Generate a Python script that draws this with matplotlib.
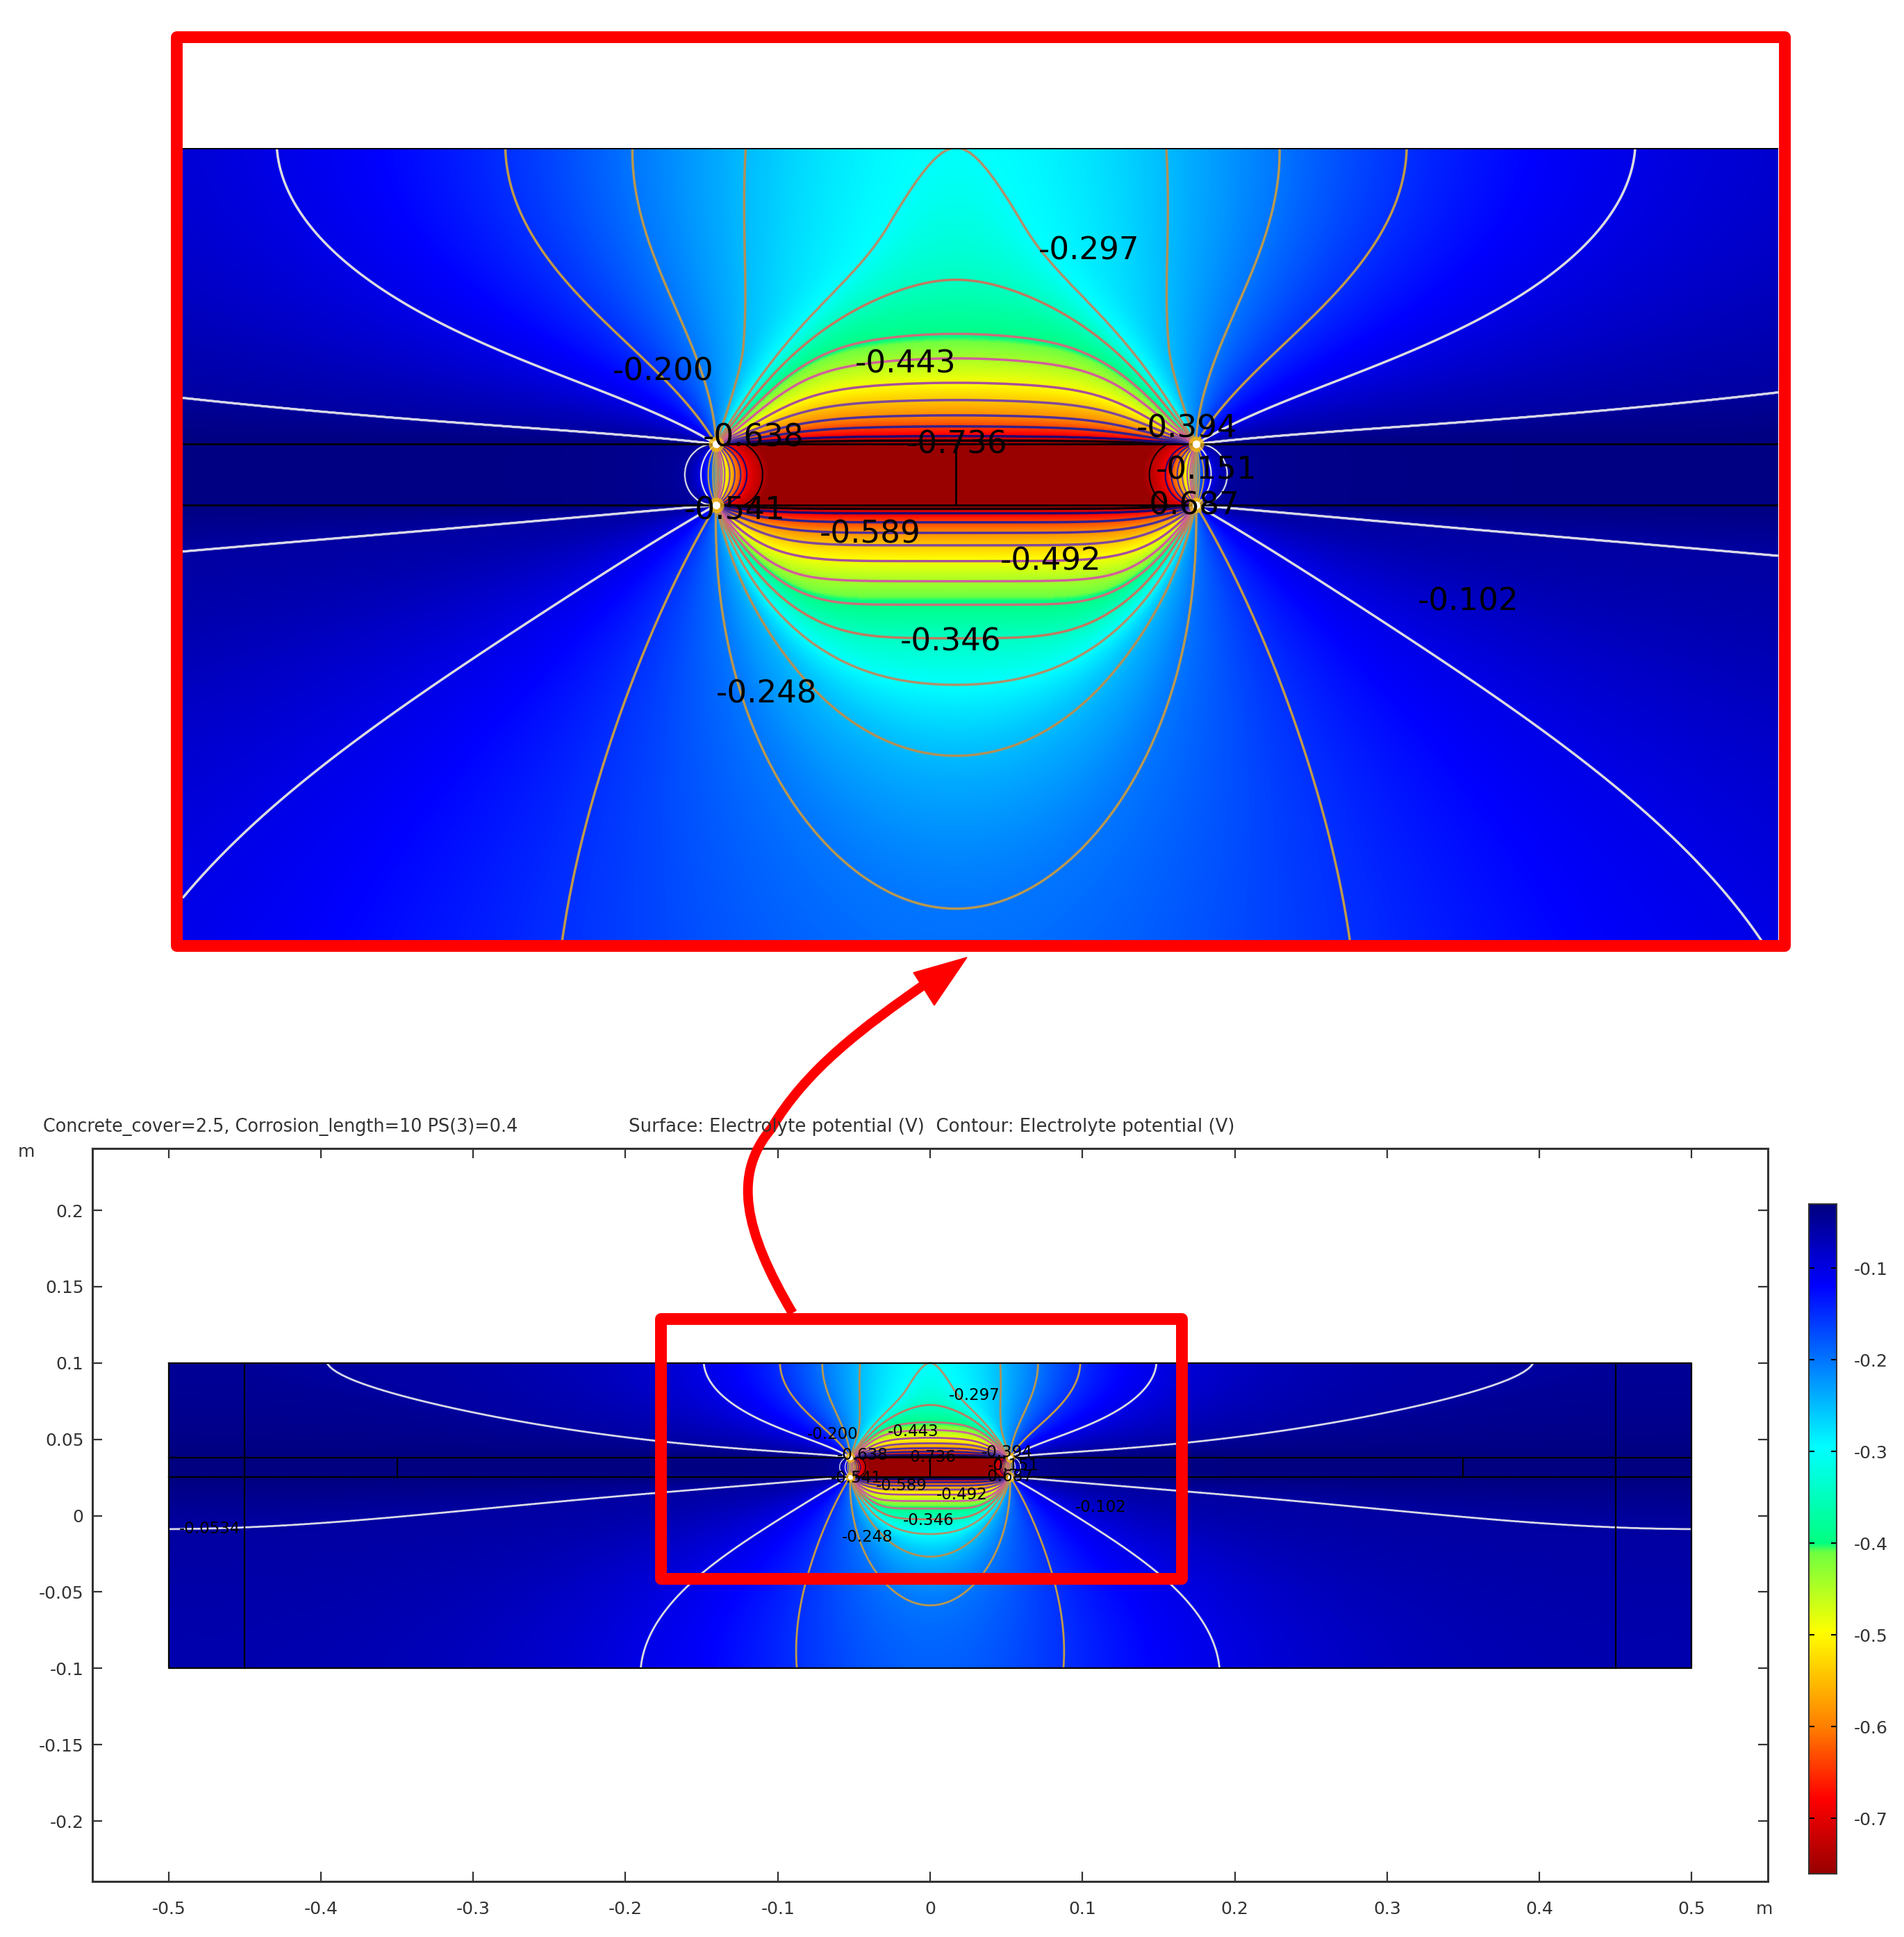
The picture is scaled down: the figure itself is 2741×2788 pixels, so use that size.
"""Electrolyte potential around a corroding rebar, with an enlarged view."""
import numpy as np
import matplotlib
matplotlib.use('Agg')
import matplotlib.pyplot as plt
from matplotlib.colors import LinearSegmentedColormap, Normalize
from matplotlib.path import Path
from matplotlib.patches import PathPatch, Polygon, Rectangle

W, H = 2741, 2788

# colour table of the legend
cmap_values = [-0.7606, -0.68, -0.60, -0.497, -0.41, -0.40, -0.295, -0.118, -0.03]
cmap_colors = ['#990000', '#ff0000', '#ff8000', '#ffff00', '#70ff40', '#00ff80',
               '#00ffff', '#0000ff', '#000080']

# contour levels, from the labels, and the line colour of each
levels = [-0.736, -0.687, -0.638, -0.589, -0.541, -0.492, -0.443, -0.394,
          -0.346, -0.297, -0.248, -0.200, -0.151, -0.102, -0.0534]
level_colors = ['#100008', '#200870', '#30208a', '#50309a', '#804a9a', '#a8509a',
                '#d0609a', '#c8707a', '#c07a60', '#b0906a', '#b09058', '#b89850',
                '#c09a48', '#dcdce0', '#d8d8e8']

# where each level was read on the picture, above the bar: (x, y) in metres
top_x = [0, 0, 0, 0, 0, 0, 0, 0, 0, 0, 0.046, 0.0708, 0.0986, 0.1486, 0.396, 0.5]
top_y = [0.03895, 0.03985, 0.0419, 0.0442, 0.0474, 0.0510, 0.0561, 0.0612,
         0.0725, 0.1, 0.1, 0.1, 0.1, 0.1, 0.1, 0.1]
top_v = [-0.736, -0.687, -0.638, -0.589, -0.541, -0.492, -0.443, -0.394,
         -0.346, -0.297, -0.248, -0.200, -0.151, -0.102, -0.0534, -0.045]

# same below the bar
bot_x = [0, 0, 0, 0, 0, 0, 0, 0, 0, 0, 0, 0, 0.0875, 0.19, 0.5, 0.5]
bot_y = [0.0247, 0.0238, 0.0219, 0.0197, 0.0171, 0.0138, 0.0096, 0.0047,
         -0.0023, -0.0120, -0.0268, -0.0587, -0.1, -0.1, -0.0087, -0.1]
bot_v = [-0.736, -0.687, -0.638, -0.589, -0.541, -0.492, -0.443, -0.394,
         -0.346, -0.297, -0.248, -0.200, -0.151, -0.102, -0.0534, -0.062]

# bulge of each arc inside the bar band at its end, metres from the end plane
arc_offset = [0.0102, 0.0067, 0.0054, 0.0041, 0.003, 0.0019, 0.0013, 0.0009,
              0.0005, 0.0002, -0.0002, -0.0007, -0.0017, -0.0033, -0.0068]

# geometry
half_bar = 0.0525
band_top = 0.0382
band_bot = 0.0255
dom_x = 0.5
dom_y = 0.1
mirror_top = 0.85
mirror_bot = 0.7

# contour labels
label_text = ['-0.297', '-0.200', '-0.443', '-0.638', '-0.736', '-0.394', '-0.151',
              '-0.541', '-0.687', '-0.589', '-0.492', '-0.102', '-0.346', '-0.248',
              '-0.0534']
label_x = [0.0291, -0.0641, -0.0111, -0.0443, 0.0002, 0.0505, 0.0548, -0.0484,
           0.0510, -0.0188, 0.0207, 0.1121, -0.0011, -0.0414, -0.473]
label_y = [0.0786, 0.0533, 0.0549, 0.0396, 0.0381, 0.0415, 0.0327, 0.0244,
           0.0253, 0.0194, 0.0138, 0.0054, -0.0031, -0.0140, -0.0087]

x_ticks = [-0.5, -0.4, -0.3, -0.2, -0.1, 0, 0.1, 0.2, 0.3, 0.4, 0.5]
y_ticks = [-0.2, -0.15, -0.1, -0.05, 0, 0.05, 0.1, 0.15, 0.2]
bar_ticks = [-0.1, -0.2, -0.3, -0.4, -0.5, -0.6, -0.7]

GREY = '#333333'
cmap = LinearSegmentedColormap.from_list(
    'potential',
    [((v - cmap_values[0]) / (cmap_values[-1] - cmap_values[0]), c)
     for v, c in zip(cmap_values, cmap_colors)], N=512)
norm = Normalize(cmap_values[0], cmap_values[-1])


def px_axes(fig, left, top, right, bottom, **kw):
    """Axes placed with pixel edges of the final picture."""
    return fig.add_axes([left / W, 1 - bottom / H, (right - left) / W,
                         (bottom - top) / H], **kw)


def _one(x, h):
    z = x + 1j * h
    return np.abs(np.angle((z - half_bar) / (z + half_bar)))


def _seen(x, h):
    """Angle under which the bar is seen from a point at height h above it."""
    return _one(x, h) + _one(x - 2 * dom_x, h) + _one(x + 2 * dom_x, h)


def _angle(x, h, depth, weight):
    """Same angle, bent by the mirror image in the closed edge at height depth."""
    s = h / depth
    # lines close to the bar hug it and leave its ends steeply
    ramp = np.clip((np.degrees(_one(x, h)) - 95) / 40, 0, 1)
    near = ramp * ramp * (3 - 2 * ramp)
    t = np.minimum(np.abs(x) / half_bar, 1.0)
    x_flat = x * (1 + (t ** 2 - 1) * near)
    mirror = _seen(x, 2 * depth - h) - _seen(x, 2 * depth) * (1 - s) ** 2
    return _seen(x_flat, h) + weight * mirror


def top_angle(x, y):
    return _angle(x, y - band_top, dom_y - band_top, mirror_top)


def bot_angle(x, y):
    return _angle(x, band_bot - y, band_bot + dom_y, mirror_bot)


def lookup(angle, pts_x, pts_y, pts_v, angle_func):
    """Potential from the levels read on the picture, keyed on the angle."""
    key = angle_func(np.asarray(pts_x, float), np.asarray(pts_y, float))
    order = np.argsort(key)
    key, val = key[order], np.asarray(pts_v)[order]
    key = np.concatenate([[0.0], key, [np.pi + 1e-6]])
    val = np.concatenate([[cmap_values[-1]], val, [cmap_values[0]]])
    return np.interp(angle, key, val)


def band_field(x, y):
    h = (band_top - band_bot) / 2
    mid = (band_top + band_bot) / 2
    d = half_bar - np.abs(x)
    w = d + 1j * (y - mid)
    phi = np.abs(np.angle((w - 1j * h) / (w + 1j * h)))
    alpha = np.where(d < 0, phi, 2 * np.pi - phi)
    off = np.asarray(arc_offset)
    key = 2 * np.arctan2(h, np.abs(off))
    key = np.where(off < 0, key, 2 * np.pi - key)
    order = np.argsort(key)
    key = key[order]
    k = np.concatenate([[0.0], key, [key[-1] + 0.12, 2 * np.pi]])
    v = np.concatenate([[cmap_values[-1]], np.asarray(levels)[order],
                        [cmap_values[0], cmap_values[0]]])
    return np.interp(alpha, k, v)


def draw_field(ax, x_lim, y_low, nx, ny, lw, band_lw):
    """Surface and contours, one pass for each of the three regions."""
    x = np.linspace(x_lim[0], x_lim[1], nx)
    regions = [(band_top, dom_y, ny[0]), (band_bot, band_top, ny[1]),
               (y_low, band_bot, ny[2])]
    for i, (y_a, y_b, n) in enumerate(regions):
        y = np.linspace(y_a, y_b, n)
        X, Y = np.meshgrid(x, y)
        width = lw
        if i == 0:
            V = lookup(top_angle(X, Y), top_x, top_y, top_v, top_angle)
        elif i == 1:
            V = band_field(X, Y)
            width = band_lw
        else:
            V = lookup(bot_angle(X, Y), bot_x, bot_y, bot_v, bot_angle)
        ax.imshow(V, origin='lower', extent=(x[0], x[-1], y_a, y_b), cmap=cmap,
                  norm=norm, aspect='auto', interpolation='bilinear', zorder=1)
        ax.contour(X, Y, V, levels=levels, colors=level_colors, linewidths=width,
                   zorder=2)


def draw_domain(ax, lw, spot):
    """Black geometry edges and the hot end points of the bar."""
    kw = dict(color='black', lw=lw, zorder=3)
    ax.plot([-dom_x, dom_x], [band_top, band_top], **kw)
    ax.plot([-dom_x, dom_x], [band_bot, band_bot], **kw)
    ax.plot([0, 0], [band_bot, band_top], **kw)
    for sign in (-1, 1):
        ax.plot([sign * 0.45, sign * 0.45], [-dom_y, dom_y], **kw)
        ax.plot([sign * 0.35, sign * 0.35], [band_bot, band_top], **kw)
    ax.plot([-dom_x, dom_x, dom_x, -dom_x, -dom_x],
            [dom_y, dom_y, -dom_y, -dom_y, dom_y], **kw)
    for sign in (-1, 1):
        for yy in (band_top, band_bot):
            ax.plot(sign * half_bar, yy, 'o', ms=spot * 2, color='#ffc000',
                    alpha=0.7, mew=0, zorder=4)
            ax.plot(sign * half_bar, yy, 'o', ms=spot, color='white', mew=0, zorder=4)


def draw_labels(ax, size, x_lim):
    for txt, lx, ly in zip(label_text, label_x, label_y):
        if x_lim[0] < lx < x_lim[1]:
            ax.text(lx, ly, txt, fontsize=size, color='black', ha='center',
                    va='center', zorder=5, clip_on=True)


fig = plt.figure(figsize=(W / 100, H / 100), dpi=100, facecolor='white')

# main chart
ax = px_axes(fig, 133, 1653, 2545, 2708, facecolor='white')
draw_field(ax, (-dom_x, dom_x), -dom_y, 2600, (260, 50, 520), 2.0, 1.0)
draw_domain(ax, 1.6, 5)
draw_labels(ax, 16.5, (-dom_x, dom_x))
ax.set_xlim(-0.55, 0.55)
ax.set_ylim(-0.2395, 0.2405)
ax.set_xticks(x_ticks)
ax.set_xticklabels([f'{t:g}' for t in x_ticks])
ax.set_yticks(y_ticks)
ax.set_yticklabels([f'{t:g}' for t in y_ticks])
ax.tick_params(direction='in', length=10, width=1.6, color=GREY, labelcolor=GREY,
               labelsize=18, top=True, right=True)
ax.tick_params(axis='x', pad=20)
ax.tick_params(axis='y', pad=9)
for spine in ax.spines.values():
    spine.set_linewidth(2.2)
    spine.set_color(GREY)

fig.text(62 / W, 1 - 1622 / H, 'Concrete_cover=2.5, Corrosion_length=10 PS(3)=0.4',
         fontsize=18.4, color=GREY, ha='left', va='center')
fig.text(905 / W, 1 - 1622 / H,
         'Surface: Electrolyte potential (V)  Contour: Electrolyte potential (V)',
         fontsize=18.7, color=GREY, ha='left', va='center')
fig.text(38 / W, 1 - 1658 / H, 'm', fontsize=18, color=GREY, ha='center', va='center')
fig.text(2540 / W, 1 - 2748 / H, 'm', fontsize=18, color=GREY, ha='center', va='center')

# colour legend
cax = px_axes(fig, 2604, 1733, 2644, 2697)
grad = np.linspace(cmap_values[0], cmap_values[-1], 800).reshape(-1, 1)
cax.imshow(grad, origin='lower', extent=(0, 1, cmap_values[0], cmap_values[-1]),
           cmap=cmap, norm=norm, aspect='auto')
cax.set_xticks([])
cax.set_yticks(bar_ticks)
cax.set_yticklabels([f'{t:g}' for t in bar_ticks])
cax.tick_params(axis='y', direction='in', length=6, width=1.5, color='black',
                labelcolor=GREY, labelsize=18, left=True, right=True,
                labelleft=False, labelright=True, pad=18)
for spine in cax.spines.values():
    spine.set_linewidth(1.5)
    spine.set_color(GREY)

# enlarged view
inset = px_axes(fig, 263, 213, 2560, 1354, facecolor='white')
inset_x = (-0.1692, 0.1799)
inset_low = -0.0654
draw_field(inset, inset_x, inset_low, 2300, (430, 90, 630), 2.5, 1.6)
draw_domain(inset, 2.0, 8)
draw_labels(inset, 32.5, inset_x)
inset.set_xlim(*inset_x)
inset.set_ylim(inset_low, dom_y)
inset.axis('off')

# red call-outs, in picture pixels
over = fig.add_axes([0, 0, 1, 1], facecolor='none')
over.set_xlim(0, W)
over.set_ylim(H, 0)
over.axis('off')
RED = '#ff0000'
for left, top, right, bottom in [(254, 53, 2569, 1361), (951, 1898, 1701, 2272)]:
    over.add_patch(Rectangle((left, top), right - left, bottom - top, fill=False,
                             edgecolor=RED, lw=12.2, joinstyle='round', zorder=6))
arrow_path = Path([(1141, 1890), (1070, 1770), (1055, 1690), (1110, 1625),
                   (1160, 1540), (1240, 1480), (1338, 1412)],
                  [Path.MOVETO, Path.CURVE4, Path.CURVE4, Path.CURVE4,
                   Path.CURVE4, Path.CURVE4, Path.CURVE4])
over.add_patch(PathPatch(arrow_path, fill=False, edgecolor=RED, lw=10, zorder=6))
over.add_patch(Polygon([(1392, 1378), (1315, 1400), (1345, 1447)], closed=True,
                       facecolor=RED, edgecolor=RED, zorder=6))

fig.savefig('out.png', dpi=100, facecolor='white')
